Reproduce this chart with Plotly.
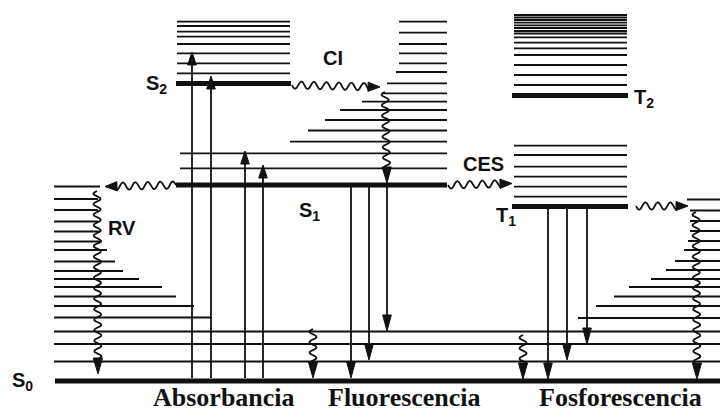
import numpy as np
import plotly.graph_objects as go

# ---------------- data (pixel-like diagram coordinates) ----------------
# thick electronic levels: y, x-start, x-end
LEVEL_NAMES = ["S0", "S1", "S2", "T1", "T2"]
LEVEL_Y = [381, 185, 83.5, 206.5, 95.5]
LEVEL_X0 = [55, 176, 176, 512, 512]
LEVEL_X1 = [728, 447, 291, 628, 628]

# vibrational sub-levels
S2_VIB_Y = [21.7, 26, 31.7, 36.7, 44, 53.3, 63.3, 73.3]
S2_VIB_X = [177, 290]
S1_VIB_Y = [21.7, 32.7, 44, 53.3, 63.3, 72, 83.3, 93.3, 101.7, 110, 120, 130.5, 141.7, 153.3, 168.3]
S1_VIB_X0 = [399, 399, 399, 399, 399, 396, 387, 383, 362, 340, 325, 308, 290, 180, 180]
S1_VIB_X1 = 447
T2_VIB_Y = [15, 17.5, 20, 22.7, 25.3, 28, 31, 33.5, 37.3, 42.7, 48.3, 55, 65, 75, 85]
T1_VIB_Y = [145.7, 155, 166.7, 176.7, 186.7, 196.7]
T_VIB_X = [514, 627]
S0L_Y = [186.5, 199, 210, 221.5, 231.5, 241.5, 250, 261.5, 271, 279, 287, 296.5, 306, 317.5]
S0L_X1 = [100, 98, 98, 98, 100, 102, 107, 115, 123, 139, 162, 176, 194, 212]
S0L_X0 = 54
S0R_Y = [199.5, 210.5, 221, 231, 241, 250, 261, 270, 279, 287, 296.5, 306, 318]
S0R_X0 = [687, 690, 690, 690, 688, 684, 675, 666, 651, 629, 614, 596, 578]
S0R_X1 = 728
S0_FULL_Y = [331.5, 344, 361.5]
S0_FULL_X = [54, 728]

# radiative transitions (straight arrows)
ABS_X = [192, 211, 245, 263]
ABS_Y0 = [378, 378, 378, 378]
ABS_Y1 = [52, 76, 151, 165]
FLU_X = [351, 369, 387]
FLU_Y0 = [187, 187, 187]
FLU_Y1 = [378, 360, 331]
PHO_X = [548, 567, 587]
PHO_Y0 = [209, 209, 209]
PHO_Y1 = [379, 360, 344]

# non-radiative transitions (wavy arrows): start x, start y, tip x, tip y
WAVE_X0 = [292, 385, 448, 176, 97, 636, 696, 313, 523]
WAVE_Y0 = [85, 92, 185, 185, 191, 206, 212, 329, 335]
WAVE_X1 = [380, 387, 512, 105, 98, 688, 697, 313, 523]
WAVE_Y1 = [87, 183, 183.5, 186.5, 374, 206, 379, 378, 379]

# labels
LABEL_TEXT = ["S<sub>0</sub>", "S<sub>1</sub>", "S<sub>2</sub>", "T<sub>1</sub>", "T<sub>2</sub>",
              "CI", "CES", "RV"]
LABEL_X = [22, 309, 156, 506, 644, 333, 483, 122]
LABEL_Y = [381, 211, 84, 216, 98, 58, 164, 228]
BOTTOM_TEXT = ["Absorbancia", "Fluorescencia", "Fosforescencia"]
BOTTOM_X = [224, 404, 620]
BOTTOM_Y = 397

INK = "#111111"
PAGE_OFFSET = 8  # default body margin of the html page
fig = go.Figure()


def add_segments(xs0, xs1, ys, width):
    X, Y = [], []
    for a, b, y in zip(xs0, xs1, ys):
        X += [a, b, None]
        Y += [y, y, None]
    fig.add_trace(go.Scatter(x=X, y=Y, mode="lines", line=dict(color=INK, width=width),
                             hoverinfo="skip", showlegend=False))


def add_vsegments(xs, ys0, ys1, width):
    X, Y = [], []
    for x, a, b in zip(xs, ys0, ys1):
        X += [x, x, None]
        Y += [a, b, None]
    fig.add_trace(go.Scatter(x=X, y=Y, mode="lines", line=dict(color=INK, width=width),
                             hoverinfo="skip", showlegend=False))


def add_head(tx, ty, ux, uy, length, half):
    bx, by = tx - ux * length, ty - uy * length
    px, py = -uy, ux
    fig.add_trace(go.Scatter(x=[tx, bx + px * half, bx - px * half, tx],
                             y=[ty, by + py * half, by - py * half, ty],
                             mode="lines", fill="toself", fillcolor=INK,
                             line=dict(color=INK, width=1), hoverinfo="skip", showlegend=False))


# vibrational levels
add_segments([S2_VIB_X[0]] * len(S2_VIB_Y), [S2_VIB_X[1]] * len(S2_VIB_Y), S2_VIB_Y, 1.8)
add_segments(S1_VIB_X0, [S1_VIB_X1] * len(S1_VIB_Y), S1_VIB_Y, 1.8)
add_segments([T_VIB_X[0]] * len(T2_VIB_Y), [T_VIB_X[1]] * len(T2_VIB_Y), T2_VIB_Y, 1.8)
add_segments([T_VIB_X[0]] * len(T1_VIB_Y), [T_VIB_X[1]] * len(T1_VIB_Y), T1_VIB_Y, 1.8)
add_segments([S0L_X0] * len(S0L_Y), S0L_X1, S0L_Y, 1.8)
add_segments(S0R_X0, [S0R_X1 + PAGE_OFFSET] * len(S0R_Y), S0R_Y, 1.8)
add_segments([S0_FULL_X[0]] * 3, [S0_FULL_X[1] + PAGE_OFFSET] * 3, S0_FULL_Y, 1.8)

# electronic levels
add_segments(LEVEL_X0, [x + (PAGE_OFFSET if x >= 728 else 0) for x in LEVEL_X1], LEVEL_Y, 5)

# straight arrows
for xs, y0s, y1s, L, W in [(ABS_X, ABS_Y0, ABS_Y1, 13, 4.3),
                           (FLU_X, FLU_Y0, FLU_Y1, 16, 4.3),
                           (PHO_X, PHO_Y0, PHO_Y1, 16, 4.3)]:
    add_vsegments(xs, y0s, [y1 - np.sign(y1 - y0) * (L - 2) for y0, y1 in zip(y0s, y1s)], 1.8)
    for x, y0, y1 in zip(xs, y0s, y1s):
        add_head(x, y1, 0, np.sign(y1 - y0), L, W)

# wavy arrows
for x0, y0, x1, y1 in zip(WAVE_X0, WAVE_Y0, WAVE_X1, WAVE_Y1):
    dx, dy = x1 - x0, y1 - y0
    dist = np.hypot(dx, dy)
    ux, uy = dx / dist, dy / dist
    horizontal = abs(ux) > abs(uy)
    L = 12 if horizontal else 16
    W = 4.6
    period = 12.5 if horizontal else 10.5
    amp = 3.6 if horizontal else 3.5
    tmax = dist - L + 1
    t = np.linspace(0, tmax, int(tmax * 4) + 2)
    off = amp * np.sin(2 * np.pi * t / period)
    px, py = -uy, ux
    fig.add_trace(go.Scatter(x=x0 + ux * t + px * off, y=y0 + uy * t + py * off, mode="lines",
                             line=dict(color=INK, width=1.8, shape="spline"),
                             hoverinfo="skip", showlegend=False))
    add_head(x1, y1, ux, uy, L, W)

for txt, x, y in zip(LABEL_TEXT, LABEL_X, LABEL_Y):
    fig.add_annotation(x=x, y=y, xref="x", yref="y", text=txt, showarrow=False,
                       font=dict(family="Liberation Sans", size=20, color=INK, weight="bold"),
                       xanchor="center", yanchor="middle")
for txt, x in zip(BOTTOM_TEXT, BOTTOM_X):
    fig.add_annotation(x=x, y=BOTTOM_Y, xref="x", yref="y", text=txt, showarrow=False,
                       font=dict(family="Liberation Serif", size=26, color=INK, weight="bold"),
                       xanchor="center", yanchor="middle")

# the page adds an 8 px body margin; shift the ranges so diagram pixels land on screen pixels
fig.update_xaxes(range=[PAGE_OFFSET, 728 + PAGE_OFFSET], visible=False, fixedrange=True)
fig.update_yaxes(range=[411 + PAGE_OFFSET, PAGE_OFFSET], visible=False, fixedrange=True)
fig.update_layout(width=728, height=411, margin=dict(l=0, r=0, t=0, b=0),
                  plot_bgcolor="white", paper_bgcolor="white", showlegend=False)
fig.write_html("out.html")
